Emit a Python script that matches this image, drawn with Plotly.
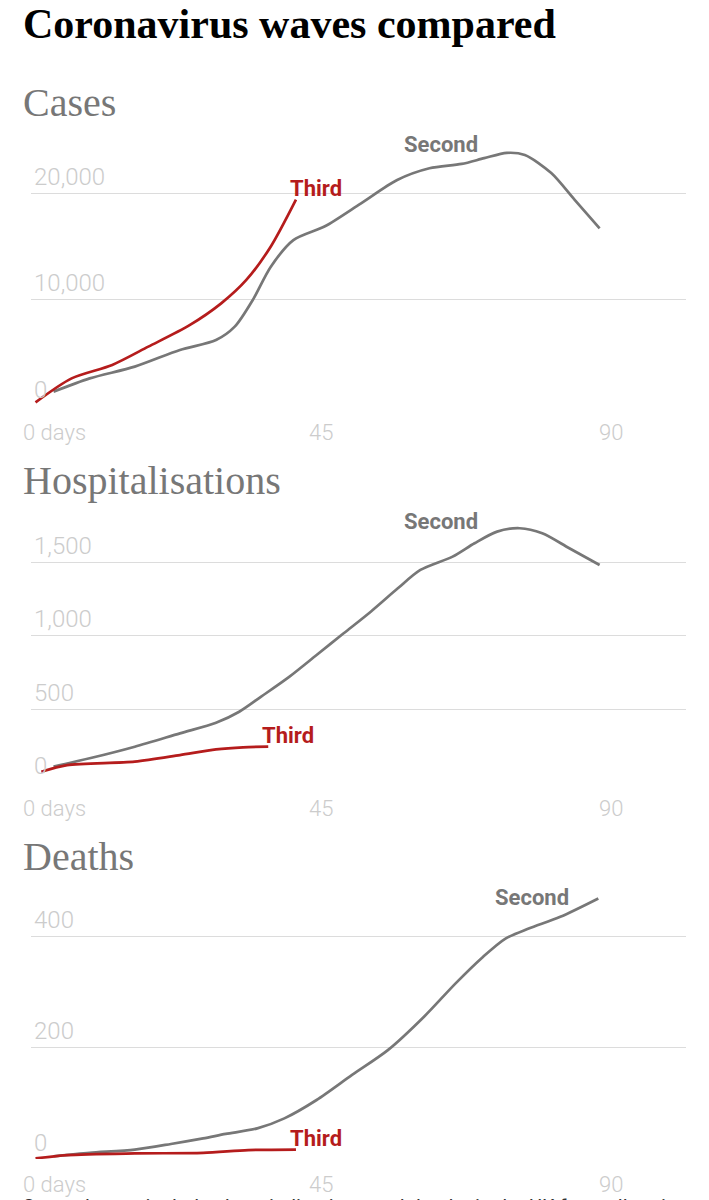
import plotly.graph_objects as go

# ---------------- data ----------------
# Cases
cases_second_days = [3.5, 9.1, 16.1, 23.1, 28.7, 31.6, 34.4, 37.2, 40.7, 45.6, 51.2,
                     56.8, 61.8, 66.8, 70.3, 73.8, 76.6, 80.7, 84.3, 88.2]
cases_second = [1350, 2600, 3700, 5270, 6200, 7460, 9970, 13100, 15600, 16900, 19060,
                21250, 22350, 22760, 23300, 23800, 23600, 21900, 19400, 16700]
cases_third_days = [0.7, 6.3, 12.6, 18.2, 24.6, 29.5, 33.4, 37.2, 41.1]
cases_third = [340, 2600, 3860, 5580, 7600, 9650, 11850, 15000, 19400]

# Hospitalisations
hosp_second_days = [3.5, 9.1, 16.1, 23.1, 28.7, 32.3, 35.7, 40.1, 44.3, 48.5, 52.7,
                    56.9, 60.4, 65.4, 68.8, 72.3, 75.8, 79.3, 83.5, 88.2]
hosp_second = [109, 166, 245, 336, 408, 483, 586, 722, 869, 1017, 1164,
               1323, 1448, 1539, 1630, 1709, 1732, 1698, 1596, 1482]
hosp_third_days = [1.6, 5.6, 16.1, 23.1, 28.7, 32.9, 36.8]
hosp_third = [75, 120, 143, 188, 227, 241, 245]

# Deaths
deaths_second_days = [3.5, 9.1, 16.1, 21.7, 26.7, 30.2, 35.1, 39.3, 44.3, 49.8, 55.4,
                      61.0, 65.9, 70.1, 73.6, 77.2, 82.1, 88.0]
deaths_second = [5, 11, 17, 27, 37, 45, 55, 73, 106, 151, 196,
                 256, 316, 363, 396, 414, 435, 468]
deaths_third_days = [0.7, 5.6, 16.1, 26.7, 33.7, 41.1]
deaths_third = [1, 7, 10, 11, 16, 17]

# Axes / ticks
x_tick_vals = [0, 45, 90]
x_tick_text = ["0 days", "45", "90"]
cases_ticks = [0, 10000, 20000]
hosp_ticks = [0, 500, 1000, 1500]
deaths_ticks = [0, 200, 400]

panel_titles = ["Cases", "Hospitalisations", "Deaths"]
series_names = ["Second", "Third"]

# ---------------- styling ----------------
W, H = 709, 1200
RED = "#b51c1c"
GREY = "#777777"
GRID = "#dcdcdc"
TICK = "#cccccc"
X_RANGE = [0, 101.6]
X_DOMAIN = [31 / W, 686 / W]


def py(px):
    return 1 - px / H


panels = [
    dict(sx=cases_second_days, sy=cases_second, tx=cases_third_days, ty=cases_third,
         ticks=cases_ticks, rng=[0, 25000], dom=[py(406), py(140.1)],
         title_y=103, xlab_y=432, second_pos=(63.6, 24540)),
    dict(sx=hosp_second_days, sy=hosp_second, tx=hosp_third_days, ty=hosp_third,
         ticks=hosp_ticks, rng=[0, 1850], dom=[py(782.7), py(510.9)],
         title_y=480, xlab_y=808, second_pos=(63.6, 1781)),
    dict(sx=deaths_second_days, sy=deaths_second, tx=deaths_third_days, ty=deaths_third,
         ticks=deaths_ticks, rng=[0, 480], dom=[py(1159), py(891.8)],
         title_y=857, xlab_y=1184, second_pos=(77.7, 469)),
]

fig = go.Figure()
annotations = []
layout = {}

for i, p in enumerate(panels):
    n = "" if i == 0 else str(i + 1)
    xa, ya = "x" + n, "y" + n
    fig.add_trace(go.Scatter(x=p["sx"], y=p["sy"], mode="lines", name=series_names[0],
                             line=dict(color=GREY, width=2.7, shape="spline", smoothing=0.8),
                             xaxis=xa, yaxis=ya, hoverinfo="skip", showlegend=False))
    fig.add_trace(go.Scatter(x=p["tx"], y=p["ty"], mode="lines", name=series_names[1],
                             line=dict(color=RED, width=2.7, shape="spline", smoothing=0.8),
                             xaxis=xa, yaxis=ya, hoverinfo="skip", showlegend=False))
    layout["xaxis" + n] = dict(domain=X_DOMAIN, range=X_RANGE, showgrid=False,
                               zeroline=False, showticklabels=False, showline=False,
                               fixedrange=True, anchor=ya)
    layout["yaxis" + n] = dict(domain=p["dom"], range=p["rng"], tickvals=p["ticks"],
                               ticktext=[f"{v:,}" for v in p["ticks"]],
                               showgrid=True, gridcolor=GRID, gridwidth=1.2,
                               zeroline=False, showline=False, ticks="",
                               ticklabelposition="inside top",
                               tickfont=dict(family="Roboto", size=24, color=TICK, weight=300),
                               fixedrange=True, anchor=xa)
    # panel title
    annotations.append(dict(text=panel_titles[i], xref="paper", yref="paper",
                            x=21 / W, y=py(p["title_y"]), xanchor="left", yanchor="middle",
                            showarrow=False,
                            font=dict(family="Liberation Serif", size=40, color=GREY)))
    # x tick labels
    for v, t in zip(x_tick_vals, x_tick_text):
        annotations.append(dict(text=t, xref=xa, yref="paper", x=v, y=py(p["xlab_y"]),
                                xanchor="left" if v == 0 else "center", yanchor="middle",
                                xshift=-10 if v == 0 else 0, showarrow=False,
                                font=dict(family="Roboto", size=22, color=TICK, weight=300)))
    # series labels
    sxp, syp = p["second_pos"]
    annotations.append(dict(text="Second", xref=xa, yref=ya, x=sxp, y=syp,
                            xanchor="center", yanchor="middle", showarrow=False,
                            font=dict(family="Roboto", size=22, color=GREY, weight="bold")))
    annotations.append(dict(text="Third", xref=xa, yref=ya, x=p["tx"][-1], y=p["ty"][-1],
                            xanchor="left", yanchor="middle", xshift=-8, yshift=11,
                            showarrow=False,
                            font=dict(family="Roboto", size=22, color=RED, weight="bold")))

# headline
annotations.append(dict(text="<b>Coronavirus waves compared</b>", xref="paper", yref="paper",
                        x=21 / W, y=py(24), xanchor="left", yanchor="middle", showarrow=False,
                        font=dict(family="Liberation Serif", size=42, color="#000000")))
# footnote (cut off at the bottom edge in the reference)
annotations.append(dict(text="Second wave includes hospitalisations and deaths in the UK from all nations",
                        xref="paper", yref="paper", x=21 / W, y=py(1193), xanchor="left",
                        yanchor="top", showarrow=False,
                        font=dict(family="Roboto", size=20, color="#333333")))

fig.update_layout(width=W, height=H, margin=dict(l=0, r=0, t=0, b=0),
                  paper_bgcolor="white", plot_bgcolor="white",
                  annotations=annotations, showlegend=False, **layout)

fig.write_html("out.html", config={"displayModeBar": False},
               post_script="document.body.style.margin='0';document.body.style.padding='0';")
